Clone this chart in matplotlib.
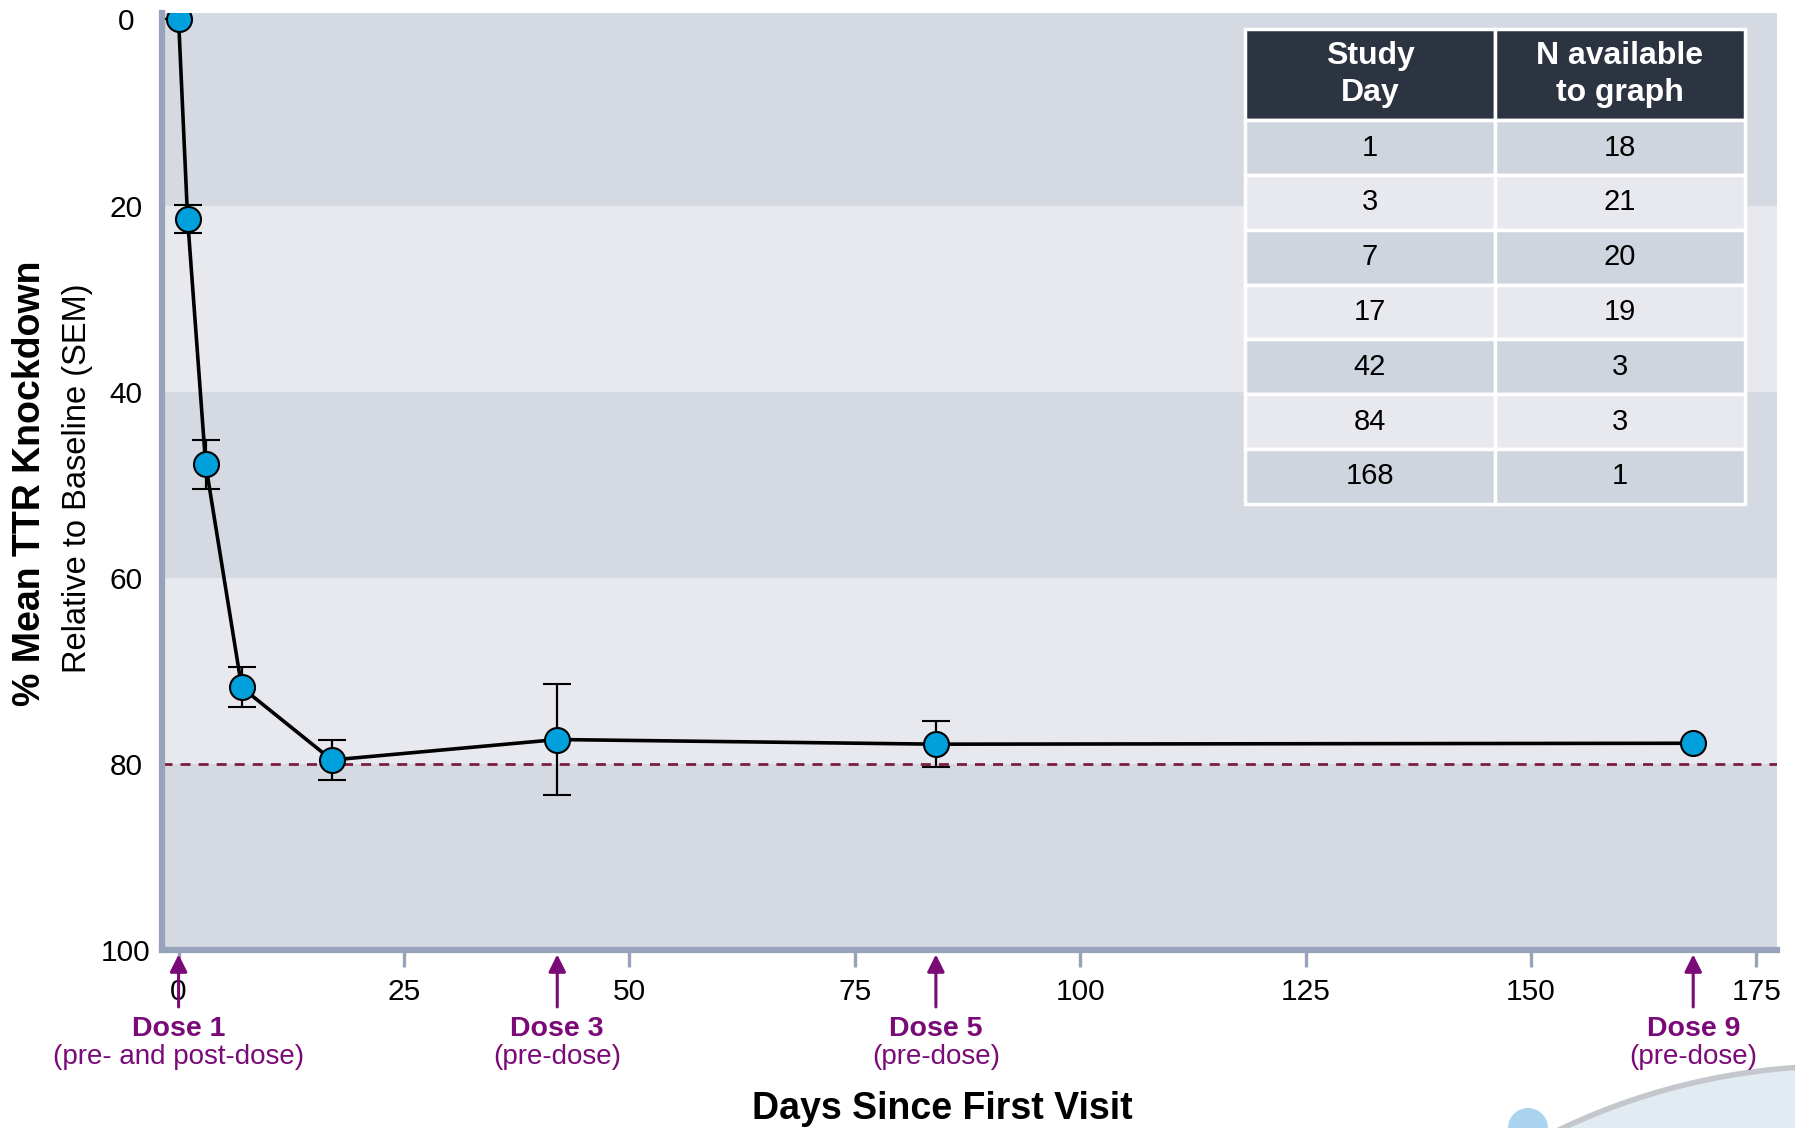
import matplotlib
matplotlib.use("Agg")
import matplotlib.pyplot as plt
from matplotlib.patches import Circle
from matplotlib.transforms import blended_transform_factory

plt.rcParams['font.family'] = ['Liberation Sans', 'DejaVu Sans']

# data
days = [0, 1, 3, 7, 17, 42, 84, 168]
knockdown = [0, 21.4, 47.8, 71.8, 79.6, 77.4, 77.9, 77.8]
sem = [0, 1.5, 2.65, 2.15, 2.2, 6.0, 2.5, 0]

dose_days = [0, 42, 84, 168]
dose_names = ['Dose 1', 'Dose 3', 'Dose 5', 'Dose 9']
dose_notes = ['(pre- and post-dose)', '(pre-dose)', '(pre-dose)', '(pre-dose)']

table_header = ['Study\nDay', 'N available\nto graph']
study_day = ['1', '3', '7', '17', '42', '84', '168']
n_available = ['18', '21', '20', '19', '3', '3', '1']

x_ticks = [0, 25, 50, 75, 100, 125, 150, 175]
y_ticks = [0, 20, 40, 60, 80, 100]
target = 80

purple = '#7a0a78'
spine_col = '#97a3bb'
band_dark = '#d4d9e2'
band_light = '#e8e9ef'

fig = plt.figure(figsize=(17.95, 11.28), dpi=100)
ax = fig.add_axes([0.0902, 0.158, 0.8998, 0.8305])

# background bands
for i in range(len(y_ticks) - 1):
    lo = y_ticks[i] if i > 0 else -0.7
    ax.axhspan(lo, y_ticks[i + 1], color=band_dark if i % 2 == 0 else band_light, zorder=0, lw=0)

ax.axhline(target, color='#7b1e3e', lw=2, ls=(0, (3.6, 2.9)), zorder=1)

ax.errorbar(days, knockdown, yerr=sem, color='black', lw=2.6, elinewidth=1.6,
            capsize=10, capthick=1.6, marker='o', markersize=18,
            markerfacecolor='#00a0dc', markeredgecolor='black', markeredgewidth=1.5, zorder=3)

ax.set_xlim(-1.85, 177.3)
ax.set_ylim(100, -0.7)
ax.set_xticks(x_ticks)
ax.set_yticks(y_ticks)
ax.tick_params(axis='x', length=12, width=2.4, color=spine_col, labelsize=21.5, pad=8)
ax.tick_params(axis='y', length=0, labelsize=21.5, pad=26)
for lbl in ax.get_yticklabels():
    lbl.set_ha('center')
for s in ['top', 'right']:
    ax.spines[s].set_visible(False)
for s in ['left', 'bottom']:
    ax.spines[s].set_color(spine_col)
    ax.spines[s].set_linewidth(4.5)
ax.set_facecolor('none')

# dose arrows below axis
tr = blended_transform_factory(ax.transData, ax.transAxes)
for d, name, note in zip(dose_days, dose_names, dose_notes):
    ax.annotate('', xy=(d, -0.002), xycoords=tr, xytext=(d, -0.064), textcoords=tr,
                arrowprops=dict(arrowstyle='-|>', color=purple, lw=2.2, mutation_scale=26),
                annotation_clip=False)
    ax.text(d, -0.085, name, transform=tr, ha='center', va='center', color=purple,
            fontsize=20.5, fontweight='bold')
    ax.text(d, -0.114, note, transform=tr, ha='center', va='center', color=purple, fontsize=20)

# table of N per study day
rows = [[a, b] for a, b in zip(study_day, n_available)]
tbl = ax.table(cellText=rows, colLabels=table_header, cellLoc='center',
               bbox=[0.6706, 0.476, 0.3096, 0.507])
tbl.auto_set_font_size(False)
for (r, c), cell in tbl.get_celld().items():
    cell.set_edgecolor('white')
    cell.set_linewidth(2.5)
    if r == 0:
        cell.set_height(91)
        cell.set_facecolor('#2c3442')
        cell.get_text().set_color('white')
        cell.get_text().set_fontweight('bold')
        cell.get_text().set_fontsize(23)
        cell.get_text().set_linespacing(1.3)
    else:
        cell.set_height(54.6)
        cell.set_facecolor('#cfd5df' if r % 2 == 1 else '#e8e9ee')
        cell.get_text().set_fontsize(21)
tbl.set_zorder(5)

fig.text(0.0165, 0.572, '% Mean TTR Knockdown', rotation=90, ha='center', va='center',
         fontsize=27, fontweight='bold')
fig.text(0.043, 0.576, 'Relative to Baseline (SEM)', rotation=90, ha='center', va='center',
         fontsize=23.5)
fig.text(0.525, 0.017, 'Days Since First Visit', ha='center', va='center',
         fontsize=27, fontweight='bold')

# corner logo swoosh (cut off in the original), kept behind the axes texts
swoosh = Circle((18.40, -5.88), 6.5, transform=fig.dpi_scale_trans,
                facecolor='#e3ebf2', edgecolor='#c4c7cc', lw=4, zorder=-1)
dot = Circle((15.28, 0.0), 0.2, transform=fig.dpi_scale_trans,
             facecolor='#a9d3ee', edgecolor='none', zorder=-1)
fig.patches.extend([swoosh, dot])

fig.savefig('out.png', dpi=100)
